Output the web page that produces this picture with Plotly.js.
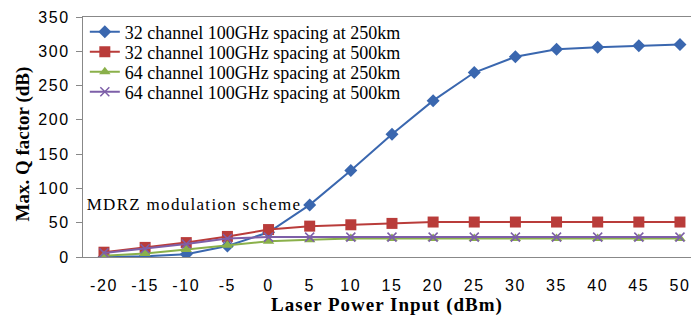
<!DOCTYPE html>
<html>
<head>
<meta charset="utf-8">
<script src="https://cdn.plot.ly/plotly-3.0.1.min.js"></script>
<style>
html,body{margin:0;padding:0;background:#fff;}
#chart{width:691px;height:323px;}
#chart .xtick text, #chart .ytick text{letter-spacing:1.6px;}
#chart .g-xtitle text{letter-spacing:1px;}
#chart .annotation-text{letter-spacing:1.3px;}
</style>
</head>
<body>
<div id="chart"></div>
<script>
const powerInput = [-20, -15, -10, -5, 0, 5, 10, 15, 20, 25, 30, 35, 40, 45, 50];
const seriesNames = [
  "32 channel 100GHz spacing at 250km",
  "32 channel 100GHz spacing at 500km",
  "64 channel 100GHz spacing at 250km",
  "64 channel 100GHz spacing at 500km"
];
const ch32_250 = [0, 1, 4, 16, 36, 76, 126, 179, 228, 269, 292, 303, 306, 308, 310];
const ch32_500 = [7, 14, 21, 30, 40, 45, 47, 49, 51, 51, 51, 51, 51, 51, 51];
const ch64_250 = [2, 5, 11, 17, 23, 25, 27, 27, 27, 27, 27, 27, 27, 27, 27];
const ch64_500 = [6, 12, 19, 27, 29, 29, 29, 29, 29, 29, 29, 29, 29, 29, 29];
const xTicks = [-20, -15, -10, -5, 0, 5, 10, 15, 20, 25, 30, 35, 40, 45, 50];
const yTicks = [0, 50, 100, 150, 200, 250, 300, 350];

const serif = "Liberation Serif, Times New Roman, serif";
const sans = "Liberation Sans, Arial, sans-serif";

const styles = [
  {color: "#3A67AF", symbol: "diamond", size: 10},
  {color: "#B93C3A", symbol: "square", size: 11},
  {color: "#8AB04A", symbol: "triangle-up", size: 10},
  {color: "#7D5FA8", symbol: "x-thin", size: 9}
];
const legendIds = ["legend", "legend2", "legend3", "legend4"];
const ys = [ch32_250, ch32_500, ch64_250, ch64_500];
const traces = ys.map((y, i) => ({
  x: powerInput, y: y, name: seriesNames[i], type: "scatter", mode: "lines+markers",
  legend: legendIds[i],
  line: {color: styles[i].color, width: 2},
  marker: {color: styles[i].color, symbol: styles[i].symbol, size: styles[i].size,
           line: {color: styles[i].color, width: i === 3 ? 1.5 : 0}}
}));

const legendRowsY = [0.9375, 0.854, 0.771, 0.6875];
const layout = {
  width: 691, height: 323,
  margin: {l: 83, r: 0, t: 17, b: 66},
  paper_bgcolor: "#fff", plot_bgcolor: "#fff",
  showlegend: true,
  xaxis: {
    range: [-22.55, 51.34], tickvals: xTicks, ticktext: xTicks.map(String),
    showgrid: false, zeroline: false, showline: true, linecolor: "#888", linewidth: 1,
    mirror: true, ticks: "", ticklabelstandoff: 14,
    tickfont: {family: sans, size: 16, color: "#000"},
    title: {text: "<b>Laser Power Input (dBm)</b>", font: {family: serif, size: 19, color: "#000"}, standoff: 1}
  },
  yaxis: {
    range: [0, 350], tickvals: yTicks, showgrid: false, zeroline: false,
    showline: true, linecolor: "#888", linewidth: 1, ticks: "outside", ticklen: 6, tickcolor: "#888",
    ticklabelstandoff: 3,
    tickfont: {family: sans, size: 16, color: "#000"},
    title: {text: "<b>Max. Q factor (dB)</b>&nbsp;&nbsp;&nbsp;", font: {family: serif, size: 19, color: "#000"}, standoff: 8}
  },
  annotations: [{
    x: -20.6, y: 77, xref: "x", yref: "y", xanchor: "left", yanchor: "middle",
    text: "MDRZ modulation scheme", showarrow: false,
    font: {family: serif, size: 17, color: "#000"}
  }]
};
legendIds.forEach((id, i) => {
  layout[id] = {x: 0.003, y: legendRowsY[i], xanchor: "left", yanchor: "middle",
    bgcolor: "rgba(0,0,0,0)", borderwidth: 0,
    font: {family: serif, size: 18, color: "#000"}};
});
Plotly.newPlot("chart", traces, layout, {staticPlot: true, displayModeBar: false});
</script>
</body>
</html>
